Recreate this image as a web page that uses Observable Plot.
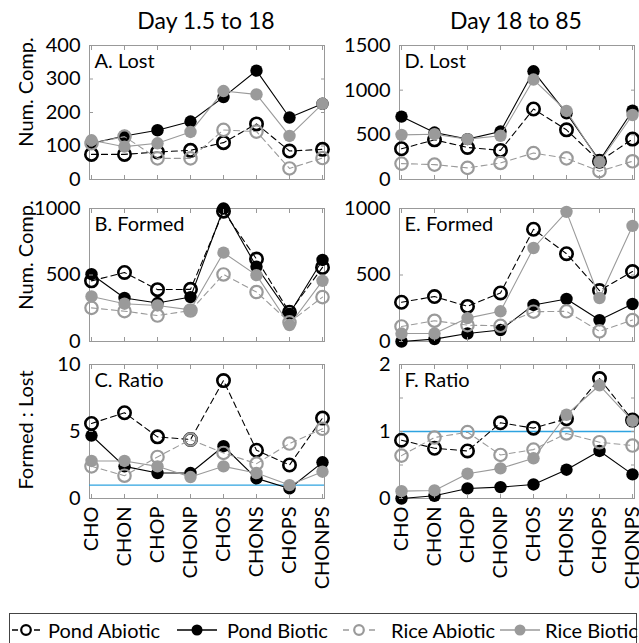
<!DOCTYPE html>
<html><head><meta charset="utf-8">
<script src="https://cdn.jsdelivr.net/npm/d3@7"></script>
<script src="https://cdn.jsdelivr.net/npm/@observablehq/plot@0.6"></script>
<style>
body{margin:0;background:#fff;font-family:Lato,sans-serif;color:#000;}
#root{position:relative;width:639px;height:643px;overflow:hidden;background:#fff;}
.abs{position:absolute;white-space:nowrap;}
.title{font-size:23px;transform:translateX(-50%);}
.ylab{font-size:20px;transform:translate(-50%,-50%) rotate(-90deg);}
.legend{position:absolute;left:9px;top:613px;width:628px;height:40px;border:1px solid #444;box-sizing:border-box;}
.leg-item{position:absolute;top:3px;height:26px;font-size:20px;}
.leg-item span{position:absolute;top:0;line-height:26px;white-space:nowrap;}
.leg-item svg{position:absolute;left:0;top:0;}
</style></head><body><div id="root"></div>
<script>
// ---- data ----
const categories = ["CHO","CHON","CHOP","CHONP","CHOS","CHONS","CHOPS","CHONPS"];
const seriesNames = ["Pond Abiotic","Pond Biotic","Rice Abiotic","Rice Biotic"];
const columnTitles = ["Day 1.5 to 18","Day 18 to 85"];

// A. Lost (Day 1.5 to 18)
const lostEarlyPondAbiotic = [75,75,82,87,110,166,85,90];
const lostEarlyPondBiotic  = [108,130,147,173,246,325,185,226];
const lostEarlyRiceAbiotic = [108,128,63,63,148,143,33,64];
const lostEarlyRiceBiotic  = [117,98,108,142,264,254,130,226];
// B. Formed (Day 1.5 to 18)
const formedEarlyPondAbiotic = [456,519,390,392,980,620,220,557];
const formedEarlyPondBiotic  = [506,327,289,334,1000,562,208,613];
const formedEarlyRiceAbiotic = [253,228,195,233,504,372,144,334];
const formedEarlyRiceBiotic  = [339,284,271,238,668,499,124,456];
// C. Ratio (Day 1.5 to 18)
const ratioEarlyPondAbiotic = [5.6,6.4,4.6,4.4,8.8,3.6,2.5,6.0];
const ratioEarlyPondBiotic  = [4.7,2.4,1.9,1.9,3.9,1.5,0.75,2.7];
const ratioEarlyRiceAbiotic = [2.4,1.7,3.1,4.4,3.4,2.6,4.1,5.2];
const ratioEarlyRiceBiotic  = [2.8,2.8,2.4,1.6,2.4,1.9,1.0,2.0];
// D. Lost (Day 18 to 85)
const lostLatePondAbiotic = [344,444,359,326,789,556,204,452];
const lostLatePondBiotic  = [704,526,452,537,1211,741,211,770];
const lostLateRiceAbiotic = [178,167,130,185,296,237,93,204];
const lostLateRiceBiotic  = [500,507,452,489,1119,767,196,722];
// E. Formed (Day 18 to 85)
const formedLatePondAbiotic = [295,338,264,365,844,660,383,526];
const formedLatePondBiotic  = [0,18,60,86,275,320,161,282];
const formedLateRiceAbiotic = [113,156,123,118,224,227,76,161];
const formedLateRiceBiotic  = [60,60,176,227,703,975,327,869];
// F. Ratio (Day 18 to 85)
const ratioLatePondAbiotic = [0.87,0.75,0.71,1.13,1.05,1.19,1.79,1.17];
const ratioLatePondBiotic  = [0,0.04,0.15,0.17,0.21,0.43,0.71,0.36];
const ratioLateRiceAbiotic = [0.64,0.91,0.99,0.65,0.73,0.97,0.84,0.79];
const ratioLateRiceBiotic  = [0.11,0.12,0.37,0.45,0.6,1.25,1.69,1.16];

// tick labels
const ticksLostEarly = [0,100,200,300,400];
const ticksLostLate = [0,500,1000,1500];
const ticksFormed = [0,500,1000];
const ticksRatioEarly = [0,5,10];
const ticksRatioLate = [0,1,2];
const minorRatioLate = [0,0.5,1,1.5,2];
const referenceRatio = [1];

// ---- styles ----
const styles = [
  {color:"#000", dash:"6,4", filled:false, sw:2.6},
  {color:"#000", dash:null, filled:true, sw:0},
  {color:"#9a9a9a", dash:"6,4", filled:false, sw:2.2},
  {color:"#9a9a9a", dash:null, filled:true, sw:0}
];

const root = document.getElementById("root");
const FONT = "Lato, sans-serif";

function panel({values, domain, ticks, minor, label, l, r, t, b, bottom, ref}) {
  const ml = 70, mr = 20, mt = 15, mb = bottom ? 125 : 15;
  const w = r - l, h = b - t;
  const rows = [];
  seriesNames.forEach((s,i)=>categories.forEach((c,j)=>rows.push({series:s, cat:c, value:values[i][j]})));
  const marks = [Plot.frame({stroke:"#999", strokeWidth:1})];
  if (ref) marks.push(Plot.ruleY(ref, {stroke:"#2ea3e0", strokeWidth:1.3}));
  seriesNames.forEach((s,i)=>{
    const st = styles[i];
    const d = rows.filter(q=>q.series===s);
    marks.push(Plot.line(d, {x:"cat", y:"value", stroke:st.color, strokeWidth:1.1, strokeDasharray:st.dash}));
    marks.push(Plot.dot(d, {x:"cat", y:"value", r:6.2, fill:st.filled?st.color:"none", stroke:st.filled?"none":st.color, strokeWidth:st.sw}));
  });
  marks.push(Plot.axisY(ticks, {anchor:"left", tickSize:0, tickPadding:9, fontSize:20, tickFormat:d=>String(d), label:null}));
  marks.push(Plot.axisY(minor||ticks, {anchor:"left", tickSize:-4, tickFormat:()=>"", stroke:"#999", label:null}));
  marks.push(Plot.axisY(minor||ticks, {anchor:"right", tickSize:-4, tickFormat:()=>"", stroke:"#999", label:null}));
  marks.push(Plot.axisX({anchor:"bottom", tickSize:-4, tickFormat:()=>"", stroke:"#999", label:null}));
  marks.push(Plot.axisX({anchor:"top", tickSize:-4, tickFormat:()=>"", stroke:"#999", label:null}));
  if (bottom) marks.push(Plot.axisX({anchor:"bottom", tickSize:0, tickPadding:8, tickRotate:-90, fontSize:20, label:null}));
  marks.push(Plot.text([label], {frameAnchor:"top-left", dx:5, dy:8, lineAnchor:"top", textAnchor:"start", fontSize:20}));
  const svg = Plot.plot({
    width: w+ml+mr, height: h+mt+mb,
    marginLeft: ml, marginRight: mr, marginTop: mt, marginBottom: mb,
    x: {type:"point", domain:categories, padding:0, label:null},
    y: {domain, label:null},
    style: {background:"transparent", overflow:"visible", fontFamily:FONT, fontSize:"20px", color:"#000"},
    marks
  });
  svg.style.position = "absolute";
  svg.style.left = (l-ml)+"px";
  svg.style.top = (t-mt)+"px";
  svg.style.maxWidth = "none";
  root.appendChild(svg);
}

const L1 = 89, R1 = 324, L2 = 399, R2 = 634;
const rowsY = [[45,179],[208,341],[364,498]];

panel({values:[lostEarlyPondAbiotic,lostEarlyPondBiotic,lostEarlyRiceAbiotic,lostEarlyRiceBiotic], domain:[0,400], ticks:ticksLostEarly, label:"A. Lost", l:L1, r:R1, t:rowsY[0][0], b:rowsY[0][1]});
panel({values:[formedEarlyPondAbiotic,formedEarlyPondBiotic,formedEarlyRiceAbiotic,formedEarlyRiceBiotic], domain:[0,1000], ticks:ticksFormed, label:"B. Formed", l:L1, r:R1, t:rowsY[1][0], b:rowsY[1][1]});
panel({values:[ratioEarlyPondAbiotic,ratioEarlyPondBiotic,ratioEarlyRiceAbiotic,ratioEarlyRiceBiotic], domain:[0,10], ticks:ticksRatioEarly, label:"C. Ratio", l:L1, r:R1, t:rowsY[2][0], b:rowsY[2][1], bottom:true, ref:referenceRatio});
panel({values:[lostLatePondAbiotic,lostLatePondBiotic,lostLateRiceAbiotic,lostLateRiceBiotic], domain:[0,1500], ticks:ticksLostLate, label:"D. Lost", l:L2, r:R2, t:rowsY[0][0], b:rowsY[0][1]});
panel({values:[formedLatePondAbiotic,formedLatePondBiotic,formedLateRiceAbiotic,formedLateRiceBiotic], domain:[0,1000], ticks:ticksFormed, label:"E. Formed", l:L2, r:R2, t:rowsY[1][0], b:rowsY[1][1]});
panel({values:[ratioLatePondAbiotic,ratioLatePondBiotic,ratioLateRiceAbiotic,ratioLateRiceBiotic], domain:[0,2], ticks:ticksRatioLate, minor:minorRatioLate, label:"F. Ratio", l:L2, r:R2, t:rowsY[2][0], b:rowsY[2][1], bottom:true, ref:referenceRatio});

// titles
function addDiv(cls, text, x, y) {
  const d = document.createElement("div");
  d.className = "abs " + cls; d.textContent = text;
  d.style.left = x+"px"; d.style.top = y+"px";
  root.appendChild(d); return d;
}
addDiv("title", columnTitles[0], 206, 6);
addDiv("title", columnTitles[1], 516, 6);
addDiv("ylab", "Num. Comp.", 25, 92);
addDiv("ylab", "Num. Comp.", 25, 255);
addDiv("ylab", "Formed : Lost", 25, 430);

// legend
const leg = document.createElement("div");
leg.className = "legend";
root.appendChild(leg);
const legPos = [[2,28,38],[167,40,217],[333,32,381],[490,40,535]];
seriesNames.forEach((s,i)=>{
  const st = styles[i];
  const [x, sw, tx] = legPos[i];
  const item = document.createElement("div");
  item.className = "leg-item";
  item.style.left = x+"px";
  const ns = "http://www.w3.org/2000/svg";
  const svg = document.createElementNS(ns,"svg");
  svg.setAttribute("width", sw); svg.setAttribute("height", 26);
  const line = document.createElementNS(ns,"line");
  line.setAttribute("x1",0); line.setAttribute("x2",sw); line.setAttribute("y1",13); line.setAttribute("y2",13);
  line.setAttribute("stroke", st.color); line.setAttribute("stroke-width",1.3);
  if (st.dash) line.setAttribute("stroke-dasharray", "6,"+(sw-12));
  svg.appendChild(line);
  const c = document.createElementNS(ns,"circle");
  c.setAttribute("cx", sw/2); c.setAttribute("cy",13); c.setAttribute("r", st.filled?5.5:4.8);
  c.setAttribute("fill", st.filled?st.color:"none");
  c.setAttribute("stroke", st.filled?"none":st.color); c.setAttribute("stroke-width", 2.2);
  svg.appendChild(c);
  item.appendChild(svg);
  const tspan = document.createElement("span");
  tspan.textContent = s;
  tspan.style.left = (tx - x)+"px";
  item.appendChild(tspan);
  leg.appendChild(item);
});
</script></body></html>
